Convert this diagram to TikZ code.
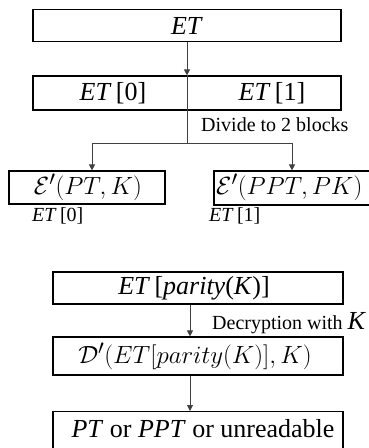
\documentclass[tikz,border=0pt]{standalone}
\usepackage{fontspec}
\setmainfont{Liberation Serif}
\usetikzlibrary{arrows.meta}
\begin{document}
\begin{tikzpicture}[x=1pt,y=-1pt,
  box/.style={draw=black,line width=1.2pt,rectangle,inner sep=0pt},
  flow/.style={draw=black!75,line width=0.9pt},
  arr/.style={flow,-{Triangle[length=6pt,width=6pt]}},
  big/.style={font=\fontsize{26}{30}\selectfont,inner sep=0pt},
  mathbig/.style={font=\fontsize{28.5}{32}\selectfont,inner sep=0pt},
  small/.style={font=\fontsize{20}{24}\selectfont,inner sep=0pt}]
\useasboundingbox (0,0) rectangle (368,448);
\fill[white] (0,0) rectangle (368,448);

% encrypted text and its two halves
\node[box,minimum width=308pt,minimum height=32pt] (et) at (187,25.5) {};
\node[big] at (187,25.5) {\textit{ET}};
\node[box,minimum width=308pt,minimum height=34pt] (row) at (187,93) {};
\node[big] (et0) at (113,93) {\textit{ET}\,[0]};
\node[big] (et1) at (272,93) {\textit{ET}\,[1]};
\coordinate (split) at (187,143);
\draw[arr] (et) -- (row);
\draw[flow] (row.north) -- (split);
\node[small,anchor=west] (divide) at (201,125) {Divide to 2 blocks};

% the two encrypted blocks
\node[box,minimum width=156pt,minimum height=33pt] (lbox) at (87,187.5) {};
\node[mathbig] at (88,187.5) {$\mathcal{E}'(PT,K)$};
\node[box,minimum width=158pt,minimum height=34pt] (rbox) at (293,188) {};
\node[mathbig,anchor=west] at (216,187.5) {$\mathcal{E}'(PPT,PK)$};
\draw[flow] ([xshift=5pt]lbox.north |- split) -- ([xshift=-1pt]rbox.north |- split);
\draw[arr] ([xshift=5pt]lbox.north |- split) -- ([xshift=5pt]lbox.north);
\draw[arr] ([xshift=-1pt]rbox.north |- split) -- ([xshift=-1pt]rbox.north);
\node[small,anchor=west] (lab0) at (32,216) {\textit{ET}\,[0]};
\node[small,anchor=west] (lab1) at (209,216) {\textit{ET}\,[1]};

% decryption of the selected block
\node[box,minimum width=290pt,minimum height=32pt] (sel) at (198,288) {};
\node[big] at (194,288) {\textit{ET}\,[\textit{parity}(\textit{K})]};
\node[box,minimum width=290pt,minimum height=38pt] (dec) at (198,356) {};
\node[mathbig] at (195,356) {$\mathcal{D}'(ET[parity(K)],K)$};
\node[box,minimum width=290pt,minimum height=41pt,anchor=north] (out) at (198,411) {};
\node[big] at (203,429) {\textit{PT} or \textit{PPT} or unreadable};
\draw[arr] ([xshift=-8pt]sel.south) -- ([xshift=-8pt]dec.north);
\draw[arr] ([xshift=-8pt]dec.south) -- ([xshift=-8pt]out.north);
\node[small,anchor=west] (decl) at (212,323) {Decryption with {\fontsize{26}{30}\selectfont\textit{K}}};
\end{tikzpicture}
\end{document}
